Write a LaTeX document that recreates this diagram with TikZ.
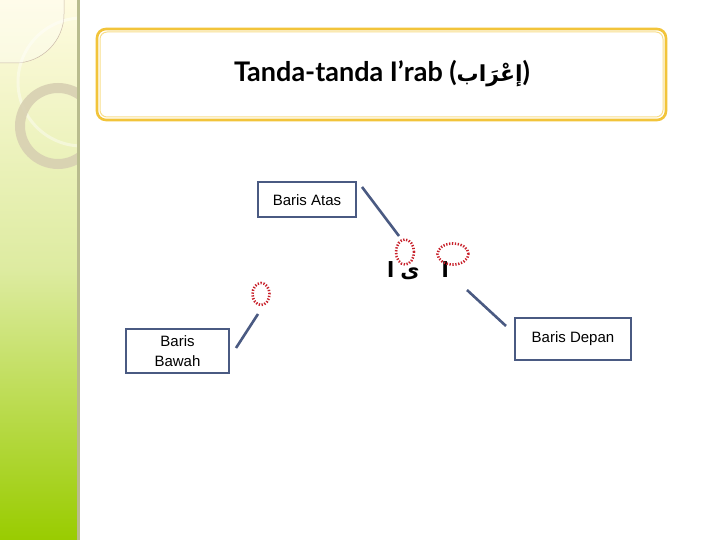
\documentclass[tikz,border=0pt]{standalone}
\usepackage{fontspec}
\setmainfont{Liberation Sans}
\newfontfamily\titlefont{Lato}
\newfontfamily\arabicfont[Script=Arabic]{DejaVu Sans}
\TeXXeTstate=1
\usetikzlibrary{shapes.geometric}
\definecolor{boxline}{HTML}{4A5A82}
\definecolor{gold}{HTML}{F2C43A}
\definecolor{goldlight}{HTML}{F8DE8A}
\definecolor{dotred}{HTML}{C8202A}
\definecolor{stripTop}{HTML}{FFFBE0}
\definecolor{stripMid}{HTML}{DDEBA0}
\definecolor{stripBot}{HTML}{99CC00}
\definecolor{ringcol}{HTML}{D8D0B2}
\definecolor{stripedge}{HTML}{B9BC8E}
\tikzset{
  labelbox/.style={draw=boxline, line width=2pt, fill=white, font=\fontsize{15}{20}\selectfont, align=center, inner sep=0pt},
  leader/.style={draw=boxline, line width=2.6pt},
  placeholder/.style={draw=dotred, line width=2.6pt, dash pattern=on 1.3pt off 1.6pt, ellipse, inner sep=0pt}
}
\begin{document}
\begin{tikzpicture}[x=1pt,y=-1pt]
\useasboundingbox (0,0) rectangle (720,540);
\fill[white] (0,0) rectangle (720,540);
% left strip
\shade[top color=stripTop, bottom color=stripBot, middle color=stripMid] (0,0) rectangle (78,540);
\begin{scope}
\clip (0,0) rectangle (78,540);
\fill[white, opacity=0.35] (0,0) -- (64,0) -- (64,14) arc[start angle=0, end angle=90, radius=49] -- (0,63) -- cycle;
\draw[draw=black!35!brown!40, line width=0.5pt] (64,0) -- (64,14) arc[start angle=0, end angle=90, radius=49] -- (0,63);
\draw[white, opacity=0.4, line width=3pt] (82,82) circle[radius=64];
\draw[ringcol, opacity=0.9, line width=10pt] (58,126) circle[radius=38];
\end{scope}
\fill[stripedge] (77,0) rectangle (80,540);
% title box
\draw[gold, line width=2.6pt, rounded corners=9pt] (97,29) rectangle (666,120);
\draw[goldlight, line width=1pt, rounded corners=7pt] (100,32) rectangle (663,117);
\node (title) at (382,74) {\titlefont\bfseries\fontsize{27}{31}\selectfont Tanda-tanda I’rab ({\arabicfont\bfseries\fontsize{22}{26}\selectfont\beginR إعْرَاب\endR})};
% label boxes
\node[labelbox, minimum width=98pt, minimum height=35pt] (atas) at (307,200) {Baris Atas};
\node[labelbox, minimum width=103pt, minimum height=44pt] (bawah) at (177.5,351) {Baris\\Bawah};
\node[labelbox, minimum width=116pt, minimum height=42pt] (depan) at (573,339) {Baris Depan};
% arabic letters
\node[inner sep=0pt] (arab) at (418,271) {\arabicfont\bfseries\fontsize{21}{24}\selectfont\beginR ا\hspace{22pt}ى\hspace{6pt}ا\endR};
% placeholders
\node[placeholder, minimum width=18pt, minimum height=25pt] (d1) at (405,252) {};
\node[placeholder, minimum width=31pt, minimum height=21pt] (d2) at (453,254) {};
\node[placeholder, minimum width=17pt, minimum height=22pt] (d3) at (261,294) {};
% leaders
\coordinate (a1) at (362,187);
\coordinate (a2) at (399,236);
\coordinate (b1) at (236,348);
\coordinate (b2) at (258,314);
\coordinate (c1) at (467,290);
\coordinate (c2) at (506,326);
\draw[leader] (a1) -- (a2);
\draw[leader] (b1) -- (b2);
\draw[leader] (c1) -- (c2);
\end{tikzpicture}
\end{document}
